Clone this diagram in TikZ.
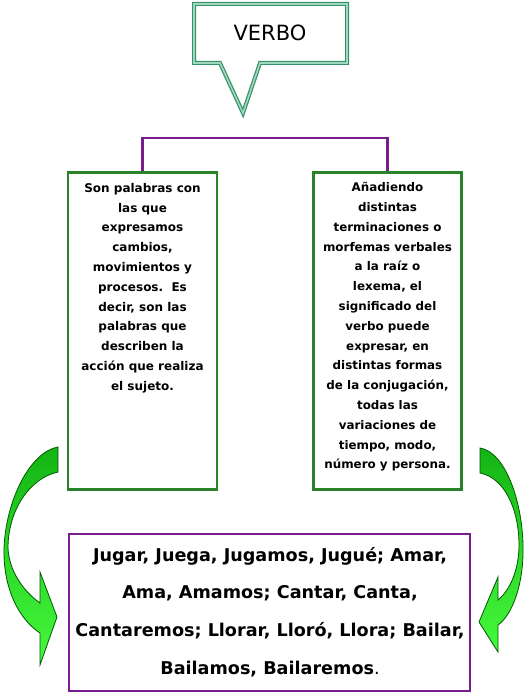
\documentclass[tikz,border=0pt]{standalone}
\usepackage{fontspec}
\setmainfont{DejaVu Sans}
\definecolor{boxgreen}{RGB}{40,130,40}
\definecolor{conpurple}{RGB}{120,30,140}
\definecolor{callgreen}{RGB}{55,145,105}
\definecolor{callfill}{RGB}{160,215,190}
\definecolor{arrdark}{RGB}{0,90,0}
\definecolor{arrtop}{RGB}{20,180,20}
\definecolor{arrbot}{RGB}{70,250,60}
\begin{document}
\begin{tikzpicture}[x=1pt,y=-1pt,
  greenbox/.style={draw=boxgreen, line width=2.5pt, fill=white, inner sep=0pt},
  purplebox/.style={draw=conpurple, line width=2.4pt, fill=white, inner sep=0pt},
  connector/.style={draw=conpurple, line width=2.2pt},
  boxtext/.style={align=center, font=\bfseries\fontsize{12}{19.8}\selectfont},
  bigarrow/.style={draw=arrdark, line width=0.8pt, top color=arrtop, bottom color=arrbot}]
\useasboundingbox (0,0) rectangle (529,698);
\fill[white] (0,0) rectangle (529,698);
% callout
\draw[callgreen, line width=1.2pt, double=callfill, double distance=1.6pt, line join=miter]
  (194,4) -- (347,4) -- (347,63) -- (260,63) -- (243,113) -- (220,63) -- (194,63) -- cycle;
\node[font=\fontsize{21}{24}\selectfont] (verbo) at (270,33) {VERBO};
% boxes
\node[greenbox, minimum width=149, minimum height=317] (left) at (142.5,331) {};
\node[greenbox, minimum width=148, minimum height=317] (right) at (387.5,331) {};
\node[purplebox, minimum width=401, minimum height=157] (bottom) at (269.5,612.5) {};
% connector
\draw[connector] (left.north) -- ++(0,-33) -| (right.north);
% texts
\node[boxtext] (lefttext) at (142.5,288) {Son palabras con\\ las que\\ expresamos\\ cambios,\\ movimientos y\\ procesos.~~Es\\ decir, son las\\ palabras que\\ describen la\\ acción que realiza\\ el sujeto.};
\node[boxtext, font=\bfseries\fontsize{11.9}{19.8}\selectfont] (righttext) at (387.5,327) {Añadiendo\\ distintas\\ terminaciones o\\ morfemas verbales\\ a la raíz o\\ lexema, el\\ significado del\\ verbo puede\\ expresar, en\\ distintas formas\\ de la conjugación,\\ todas las\\ variaciones de\\ tiempo, modo,\\ número y persona.};
\node[boxtext, font=\bfseries\fontsize{17.6}{37.7}\selectfont] (bottomtext) at (270,612) {Jugar, Juega, Jugamos, Jugué; Amar,\\ Ama, Amamos; Cantar, Canta,\\ Cantaremos; Llorar, Lloró, Llora; Bailar,\\ Bailamos, Bailaremos{\mdseries.}};
% curved arrows
\path[bigarrow]
  (58,447) .. controls (30,452) and (6,500) .. (4,548)
  .. controls (3,590) and (20,620) .. (40,633)
  -- (40,665) -- (57,617) -- (40,572) -- (40,603)
  .. controls (22,590) and (9,570) .. (8,548)
  .. controls (8,510) and (30,478) .. (58,472) -- cycle;
\path[bigarrow]
  (480,448) .. controls (505,452) and (522,500) .. (523,545)
  .. controls (524,585) and (512,615) .. (498,625)
  -- (498,652) -- (479,622) -- (498,577) -- (498,600)
  .. controls (510,590) and (519,570) .. (519,545)
  .. controls (519,510) and (505,478) .. (480,473) -- cycle;
\end{tikzpicture}
\end{document}
